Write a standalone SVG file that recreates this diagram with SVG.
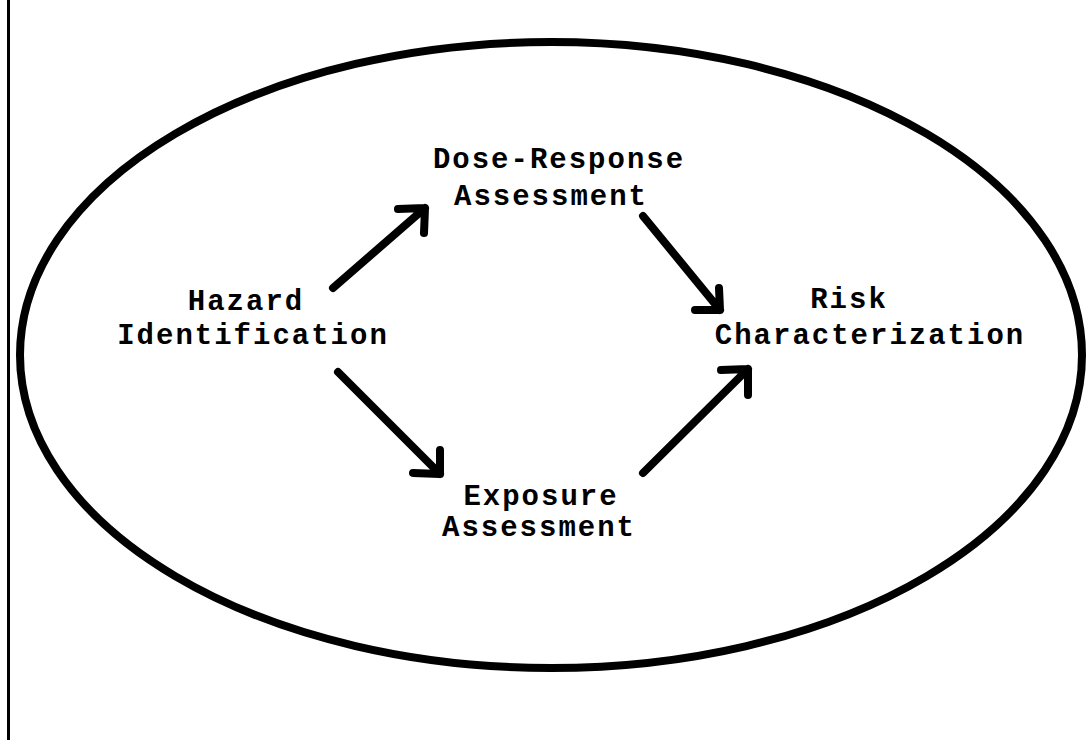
<svg xmlns="http://www.w3.org/2000/svg" width="1091" height="740" viewBox="0 0 1091 740">
<style>
.lbl{font-family:"Liberation Mono","Courier New",monospace;font-weight:bold;font-size:29px;letter-spacing:2px;fill:#000;text-anchor:middle}
.arr{stroke:#000;stroke-width:8;stroke-linecap:round;stroke-linejoin:round;fill:none}
</style>
<rect x="0" y="0" width="1091" height="740" fill="#fff"/>
<line x1="8.5" y1="0" x2="8.5" y2="740" stroke="#000" stroke-width="3"/>
<ellipse id="boundary" cx="551" cy="355" rx="531" ry="313" fill="none" stroke="#000" stroke-width="8"/>
<g id="hazard"><text class="lbl" x="246" y="310">Hazard</text><text class="lbl" x="253" y="344">Identification</text></g>
<g id="dose"><text class="lbl" x="559" y="168">Dose-Response</text><text class="lbl" x="551" y="205">Assessment</text></g>
<g id="risk"><text class="lbl" x="849" y="308">Risk</text><text class="lbl" x="870" y="344">Characterization</text></g>
<g id="exposure"><text class="lbl" x="541" y="505">Exposure</text><text class="lbl" x="539" y="536">Assessment</text></g>
<g id="connectors">
<path class="arr" d="M333 288 L425 208 M398 209 L425 208 L424 233"/>
<path class="arr" d="M643 216 L720 310 M695 310 L720 310 L719 288"/>
<path class="arr" d="M338 372 L440 474 M413 473 L440 474 L440 450"/>
<path class="arr" d="M643 473 L748 369 M721 370 L748 369 L748 395"/>
</g>
</svg>
